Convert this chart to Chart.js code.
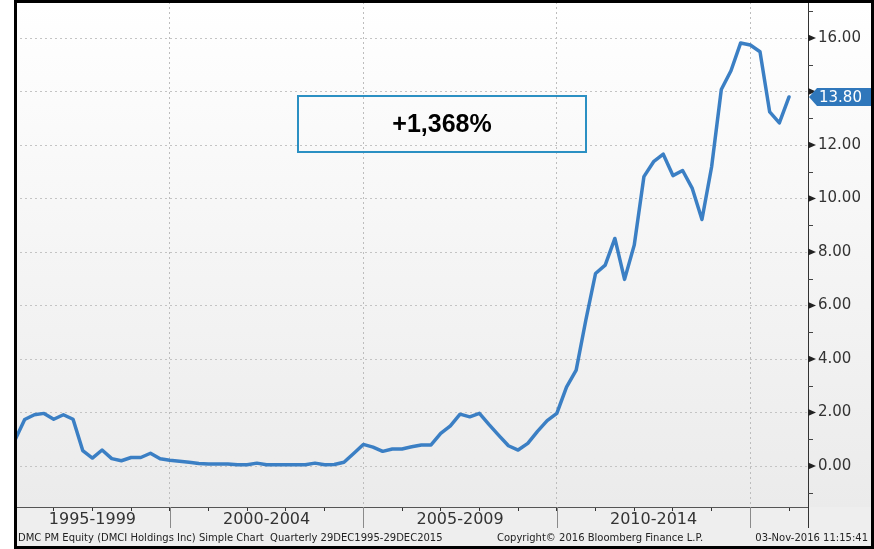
<!DOCTYPE html>
<html lang="en">
<head>
<meta charset="UTF-8">
<title>DMC PM Equity - Simple Chart</title>
<script src="https://cdn.jsdelivr.net/npm/chart.js"></script>
<style>
    html, body { margin: 0; padding: 0; background: #fff; }
    canvas { display: block; }
</style>
</head>
<body>
<canvas id="priceChart" width="874" height="549"></canvas>
<script>
// quarterly closes 29DEC1995 - 29DEC2015 (29 Dec 1995 sits on the 1996 line)
const firstQuarter = 1996;
const closes = [
    0.97, 1.74, 1.92, 1.97, 1.75, 1.92, 1.75, 0.58, 0.30, 0.60,
    0.28, 0.20, 0.32, 0.32, 0.48, 0.27, 0.22, 0.18, 0.14, 0.10,
    0.08, 0.08, 0.08, 0.05, 0.05, 0.11, 0.05, 0.05, 0.05, 0.05,
    0.05, 0.11, 0.05, 0.06, 0.14, 0.47, 0.81, 0.71, 0.55, 0.64,
    0.64, 0.72, 0.79, 0.79, 1.22, 1.50, 1.94, 1.84, 1.97, 1.55,
    1.15, 0.76, 0.60, 0.85, 1.30, 1.70, 1.97, 2.95, 3.59, 5.46,
    7.20, 7.51, 8.51, 6.98, 8.26, 10.82, 11.38, 11.66, 10.86, 11.05,
    10.38, 9.22, 11.19, 14.08, 14.78, 15.82, 15.74, 15.49, 13.24, 12.83,
    13.80
];
const periodLabels = ['1995-1999', '2000-2004', '2005-2009', '2010-2014'];
const periodStarts = [1995, 2000, 2005, 2010, 2015];
const lastPrice = 13.80;
const changeLabel = '+1,368%';
const footerLeft = 'DMC PM Equity (DMCI Holdings Inc) Simple Chart  Quarterly 29DEC1995-29DEC2015';
const footerMid = 'Copyright\u00A9 2016 Bloomberg Finance L.P.';
const footerRight = '03-Nov-2016 11:15:41';

const xMax = 2016.49;
const yMin = -1.53, yMax = 17.35;

const points = closes.map((v, i) => ({ x: firstQuarter + i / 4, y: v }));

// middle of each period band that is visible on the axis
const bandCenters = periodLabels.map((lbl, i) => {
    const from = Math.max(periodStarts[i], firstQuarter);
    return (from + periodStarts[i] + 5) / 2;
});

const decor = {
    id: 'decor',
    beforeDraw(chart) {
        const { ctx, chartArea: a, width, height } = chart;
        ctx.save();
        ctx.fillStyle = '#ffffff';
        ctx.fillRect(0, 0, width, height);
        ctx.fillStyle = '#eeeeee';
        ctx.fillRect(a.left, 0, width - a.left, height);
        const g = ctx.createLinearGradient(0, a.top, 0, a.bottom);
        g.addColorStop(0, '#ffffff');
        g.addColorStop(1, '#ebebeb');
        ctx.fillStyle = g;
        ctx.fillRect(a.left, 0, width - a.left, a.bottom);
        ctx.restore();
    },
    afterDraw(chart) {
        const { ctx, chartArea: a, width, height } = chart;
        const x = chart.scales.x, y = chart.scales.y;
        ctx.save();

        // 5 year separators running through the label row
        ctx.strokeStyle = '#8a8a8a';
        ctx.lineWidth = 1;
        periodStarts.forEach(s => {
            if (s <= x.min) return;
            const px = Math.round(x.getPixelForValue(s)) + 0.5;
            ctx.beginPath();
            ctx.moveTo(px, a.bottom);
            ctx.lineTo(px, 528);
            ctx.stroke();
        });
        ctx.strokeStyle = '#333';
        ctx.beginPath();
        ctx.moveTo(a.right + 0.5, 0);
        ctx.lineTo(a.right + 0.5, 528);
        ctx.stroke();

        // right axis markers
        ctx.fillStyle = '#222';
        ctx.strokeStyle = '#444';
        for (let v = Math.ceil(y.min); v <= Math.floor(y.max); v++) {
            const py = y.getPixelForValue(v);
            if (v % 2 === 0) {
                ctx.beginPath();
                ctx.moveTo(a.right, py - 3.5);
                ctx.lineTo(a.right, py + 3.5);
                ctx.lineTo(a.right + 8, py);
                ctx.closePath();
                ctx.fill();
            } else {
                ctx.beginPath();
                ctx.moveTo(a.right, Math.round(py) + 0.5);
                ctx.lineTo(a.right + 5, Math.round(py) + 0.5);
                ctx.stroke();
            }
        }

        // change box
        const bx = a.left + 283, by = 96, bw = 288, bh = 56;
        ctx.strokeStyle = '#2b90c3';
        ctx.lineWidth = 2;
        ctx.strokeRect(bx, by, bw, bh);
        ctx.fillStyle = '#000';
        ctx.font = 'bold 25px "Liberation Sans Narrow", "Liberation Sans", Arial, sans-serif';
        ctx.textAlign = 'center';
        ctx.textBaseline = 'middle';
        ctx.fillText(changeLabel, bx + bw / 2, by + bh / 2 + 1);

        // last price callout
        const cy = y.getPixelForValue(lastPrice);
        ctx.fillStyle = '#2f77bb';
        ctx.beginPath();
        ctx.moveTo(a.right + 1, cy);
        ctx.lineTo(a.right + 9, cy - 9);
        ctx.lineTo(width - 3, cy - 9);
        ctx.lineTo(width - 3, cy + 9);
        ctx.lineTo(a.right + 9, cy + 9);
        ctx.closePath();
        ctx.fill();
        ctx.fillStyle = '#fff';
        ctx.font = '15px "DejaVu Sans", sans-serif';
        ctx.textAlign = 'left';
        ctx.fillText(lastPrice.toFixed(2), a.right + 11, cy + 1);

        // footer
        ctx.fillStyle = '#222';
        ctx.font = '10px "DejaVu Sans", sans-serif';
        ctx.textBaseline = 'middle';
        ctx.fillText(footerLeft, 18, 538, 462);
        ctx.fillText(footerMid, 497, 538, 208);
        ctx.textAlign = 'right';
        ctx.fillText(footerRight, 868, 538, 146);

        // outer frame
        ctx.strokeStyle = '#000';
        ctx.lineWidth = 3;
        ctx.strokeRect(15.5, 1.5, width - 17, height - 3);
        ctx.restore();
    }
};

new Chart(document.getElementById('priceChart'), {
    type: 'line',
    data: {
        datasets: [{
            data: points,
            borderColor: '#3b7fc4',
            borderWidth: 3.5,
            borderJoinStyle: 'round',
            borderCapStyle: 'round',
            pointRadius: 0,
            tension: 0,
            fill: false
        }]
    },
    options: {
        responsive: false,
        animation: false,
        devicePixelRatio: 1,
        layout: { padding: { left: 15, top: 2, right: 0, bottom: 0 } },
        plugins: { legend: { display: false }, tooltip: { enabled: false } },
        scales: {
            x: {
                type: 'linear',
                min: firstQuarter,
                max: xMax,
                afterBuildTicks: scale => {
                    const vals = new Set();
                    for (let yr = firstQuarter; yr <= Math.floor(xMax); yr++) vals.add(yr);
                    bandCenters.forEach(c => vals.add(c));
                    scale.ticks = [...vals].sort((p, q) => p - q).map(v => ({ value: v }));
                },
                afterFit: scale => {
                    scale.height = 42;
                    scale.paddingLeft = 0;
                    scale.paddingRight = 0;
                },
                ticks: {
                    autoSkip: false,
                    maxRotation: 0,
                    padding: -1,
                    color: '#333',
                    font: { family: '"DejaVu Sans", sans-serif', size: 16 },
                    callback: v => {
                        const i = bandCenters.indexOf(v);
                        return i >= 0 ? periodLabels[i] : '';
                    }
                },
                grid: {
                    color: c => (periodStarts.includes(c.tick.value) && c.tick.value > firstQuarter) ? '#bdbdbd' : 'transparent',
                    tickColor: c => Number.isInteger(c.tick.value) ? '#333' : 'transparent',
                    tickLength: 4,
                    drawTicks: true
                },
                border: { color: '#555', dash: [2, 3] }
            },
            y: {
                position: 'right',
                min: yMin,
                max: yMax,
                afterBuildTicks: scale => {
                    const t = [];
                    for (let v = Math.ceil(yMin); v <= Math.floor(yMax); v++) t.push({ value: v });
                    scale.ticks = t;
                },
                afterFit: scale => {
                    scale.width = 66;
                    scale.paddingTop = 0;
                    scale.paddingBottom = 0;
                },
                ticks: {
                    padding: 10,
                    color: '#333',
                    font: { family: '"DejaVu Sans", sans-serif', size: 15 },
                    callback: v => {
                        if (v % 2 !== 0) return null;
                        return v === 14 ? '' : v.toFixed(2);
                    }
                },
                grid: {
                    color: '#c4c4c4',
                    drawTicks: false
                },
                border: { color: '#333', dash: [2, 3] }
            }
        }
    },
    plugins: [decor]
});
</script>
</body>
</html>
